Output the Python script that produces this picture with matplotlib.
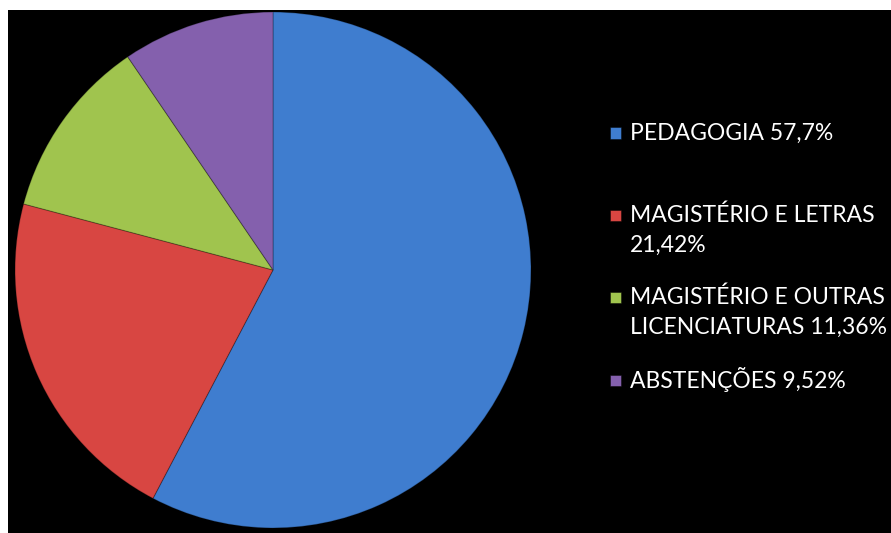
import matplotlib
matplotlib.use("Agg")
import matplotlib.pyplot as plt
from matplotlib.patches import Rectangle

categories = ["PEDAGOGIA", "MAGISTÉRIO E LETRAS", "MAGISTÉRIO E OUTRAS LICENCIATURAS", "ABSTENÇÕES"]
values = [57.7, 21.42, 11.36, 9.52]
legend_labels = ["PEDAGOGIA 57,7%", "MAGISTÉRIO E LETRAS\n21,42%",
                 "MAGISTÉRIO E OUTRAS\nLICENCIATURAS 11,36%", "ABSTENÇÕES 9,52%"]
colors = ["#3f7dcf", "#d84642", "#a0c44e", "#8460ad"]

W, H = 891, 533
fig = plt.figure(figsize=(W / 100, H / 100), dpi=100, facecolor="white")

# black panel
fig.patches.append(Rectangle((8 / W, 0), 1 - 8 / W, 1 - 10 / H, transform=fig.transFigure,
                             facecolor="black", edgecolor="none", zorder=-5))

cx, cy, r = 273, 270, 258
ax = fig.add_axes([(cx - r) / W, (H - cy - r) / H, 2 * r / W, 2 * r / H])
ax.set_facecolor("none")
ax.set_zorder(2)
ax.pie(values, colors=colors, startangle=90, counterclock=False, radius=1,
       wedgeprops=dict(edgecolor="#00000040", linewidth=0.8))
ax.set_xlim(-1, 1)
ax.set_ylim(-1, 1)
ax.axis("off")

ys = [133, 230.5, 312.5, 380]
mk_y = [133, 215, 297, 380]
for lab, col, y, my in zip(legend_labels, colors, ys, mk_y):
    fig.patches.append(Rectangle((610 / W, (H - my - 5.5) / H), 11 / W, 11 / H,
                                 transform=fig.transFigure, facecolor=col,
                                 edgecolor="#00000080", linewidth=0.6, zorder=3))
    fig.text(630 / W, (H - y) / H, lab, color="white", fontsize=16.5, family="Lato",
             va="center", ha="left", linespacing=1.5, zorder=4)

fig.savefig("out.png", dpi=100, facecolor="white")
